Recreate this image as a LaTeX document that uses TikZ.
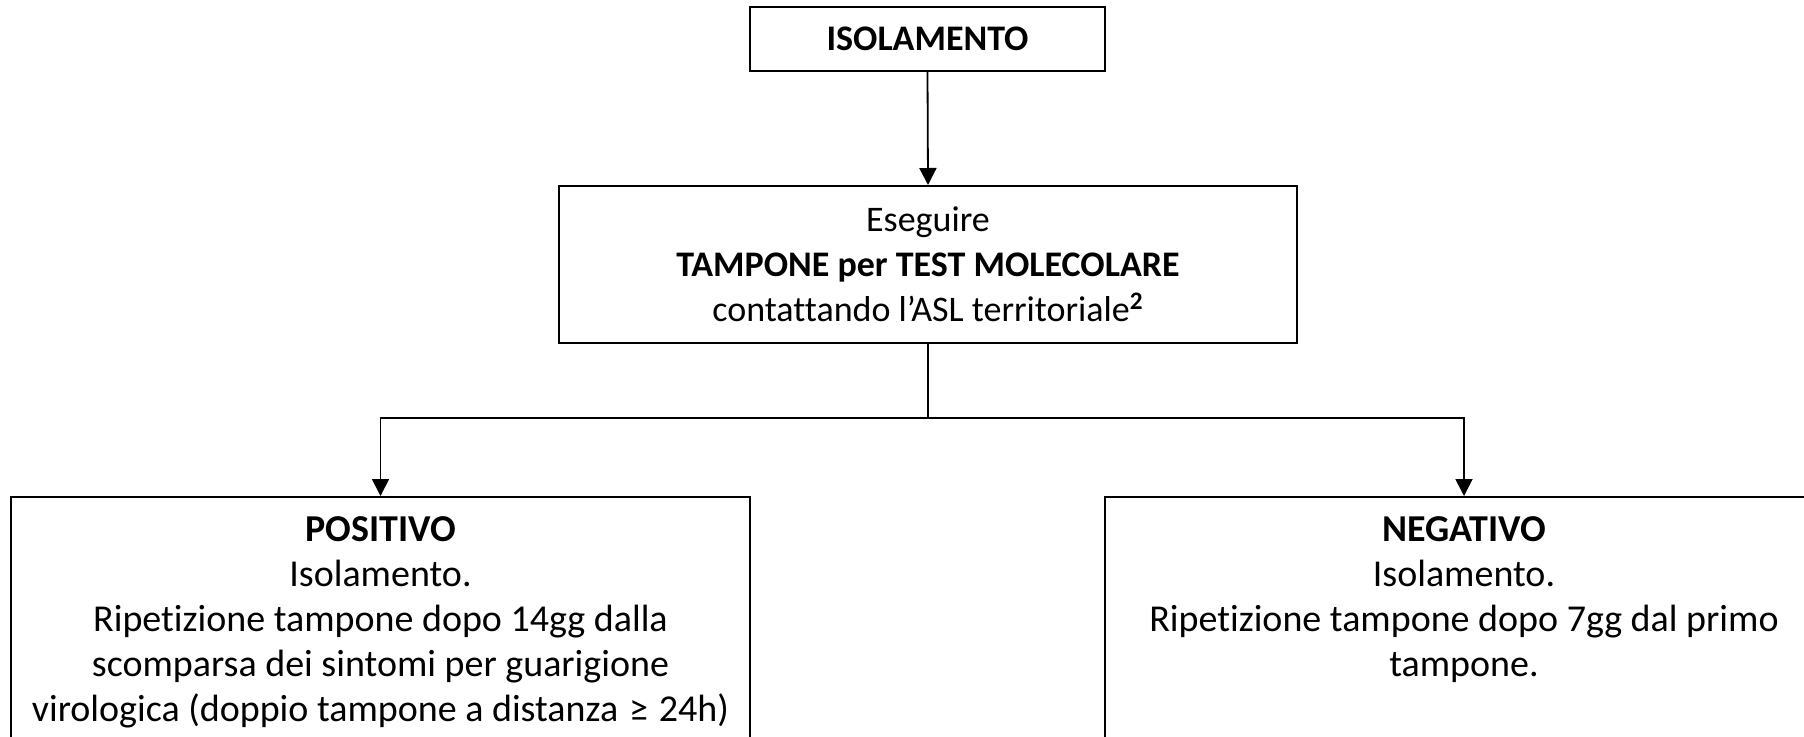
\documentclass[tikz,border=0pt]{standalone}
\usepackage{fontspec}
\setmainfont{Carlito}[Ligatures=NoCommon]
\usetikzlibrary{arrows.meta}
\begin{document}
\begin{tikzpicture}[x=0.5pt,y=-0.5pt,
  box/.style={draw=black, line width=1pt, rectangle, inner sep=0pt},
  txt/.style={align=center, inner sep=0pt, font=\fontsize{18}{22.5}\selectfont},
  btxt/.style={align=center, inner sep=0pt, font=\fontsize{19}{22.5}\selectfont},
  conn/.style={line width=0.9pt, draw=black},
  arr/.style={conn, -{Triangle[width=8.5pt,length=8.5pt]}}]
\useasboundingbox (0,0) rectangle (1804,737);
\clip (0,0) rectangle (1804,737);
% top box
\node[box, txt, minimum width=177.5pt, minimum height=32pt] (iso) at (927.5,39) {\textbf{ISOLAMENTO}};
% middle box
\node[box, txt, minimum width=369pt, minimum height=78.5pt] (tamp) at (928,264.5)
  {Eseguire\\ \textbf{TAMPONE per TEST MOLECOLARE}\\ contattando l’ASL territoriale\textbf{\textsuperscript{2}}};
% bottom boxes (extend beyond the picture)
\node[box, anchor=north, minimum width=369.5pt, minimum height=200pt] (pos) at (380.5,496) {};
\node[btxt, anchor=north] (postxt) at (380.5,516)
  {\textbf{POSITIVO}\\ Isolamento.\\ Ripetizione tampone dopo 14gg dalla\\ scomparsa dei sintomi per guarigione\\ virologica (doppio tampone a distanza\hspace{0.06em} ≥\hspace{0.06em} 24h)};
\node[box, anchor=north, minimum width=359pt, minimum height=200pt] (neg) at (1464,496) {};
\node[btxt, anchor=north] (negtxt) at (1464,516)
  {\textbf{NEGATIVO}\\ Isolamento.\\ Ripetizione tampone dopo 7gg dal primo\\ tampone.};
% connectors
\coordinate (split) at (928,418);
\draw[arr] (iso.south) -- (tamp.north);
\draw[conn] (tamp.south) -- (split);
\draw[arr] (split) -| (pos.north);
\draw[arr] (split) -| (neg.north);
\end{tikzpicture}
\end{document}
